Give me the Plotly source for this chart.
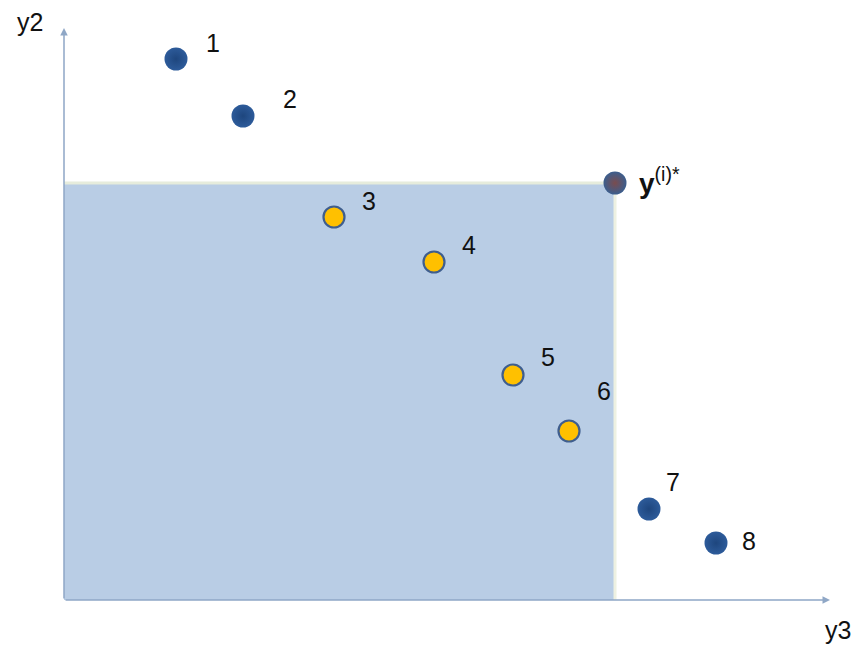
import plotly.graph_objects as go

# Data (y3 on horizontal axis, y2 on vertical axis), arbitrary units
labels = ["1", "2", "3", "4", "5", "6", "7", "8"]
y3_vals = [112, 179, 270, 370, 449, 505, 585, 652]
y2_vals = [541, 484, 383, 338, 225, 169, 91, 57]
dominated = [False, False, True, True, True, True, False, False]

ref_y3 = 551
ref_y2 = 417
ref_label = "<b>y</b><sup>(i)*</sup>"

axis_end_y3 = 766
axis_end_y2 = 572

# label offsets in pixels (style)
label_dx = [37, 47, 35, 35, 35, 35, 24, 33]
label_dy = [16, 17, 16, 17, 18, 40, 27, 2]

dark = "#2D5B9A"
dark_center = "#1E467E"
yellow = "#FFC000"
edge = "#3F5E8E"
font_family = "Liberation Sans, Arial, sans-serif"

fig = go.Figure()

# dominated region
fig.add_shape(type="rect", x0=0, y0=0, x1=ref_y3, y1=ref_y2,
              fillcolor="#B9CDE5", line=dict(width=0), layer="below")
fig.add_shape(type="line", x0=0, y0=ref_y2, x1=ref_y3, y1=ref_y2,
              line=dict(color="#E6ECDC", width=3), layer="below")
fig.add_shape(type="line", x0=ref_y3, y0=0, x1=ref_y3, y1=ref_y2,
              line=dict(color="#EEF1E2", width=3), layer="below")

# axes arrows
fig.add_annotation(x=axis_end_y3, y=0, ax=0, ay=0, xref="x", yref="y",
                   axref="x", ayref="y", text="", showarrow=True,
                   arrowhead=2, arrowsize=1, arrowwidth=1.5, arrowcolor="#8FA7C6")
fig.add_annotation(x=0, y=axis_end_y2, ax=0, ay=0, xref="x", yref="y",
                   axref="x", ayref="y", text="", showarrow=True,
                   arrowhead=2, arrowsize=1, arrowwidth=1.5, arrowcolor="#8FA7C6")

fig.add_annotation(x=-34, y=578, text="y2", showarrow=False,
                   font=dict(family=font_family, size=25, color="#111"))
fig.add_annotation(x=774, y=-30, text="y3", showarrow=False,
                   font=dict(family=font_family, size=25, color="#111"))

# non-dominated points
nd_x = [x for x, d in zip(y3_vals, dominated) if not d]
nd_y = [y for y, d in zip(y2_vals, dominated) if not d]
fig.add_trace(go.Scatter(x=nd_x, y=nd_y, mode="markers",
                         marker=dict(size=23, color=dark,
                                     gradient=dict(type="radial", color=dark_center),
                                     line=dict(width=0)),
                         hoverinfo="skip"))
# dominated points
d_x = [x for x, d in zip(y3_vals, dominated) if d]
d_y = [y for y, d in zip(y2_vals, dominated) if d]
fig.add_trace(go.Scatter(x=d_x, y=d_y, mode="markers",
                         marker=dict(size=21, color=yellow,
                                     line=dict(width=2.2, color=edge)),
                         hoverinfo="skip"))
# reference point
fig.add_trace(go.Scatter(x=[ref_y3], y=[ref_y2], mode="markers",
                         marker=dict(size=23, color="#3B5E8E",
                                     gradient=dict(type="radial", color="#7A4C4E"),
                                     line=dict(width=0)),
                         hoverinfo="skip"))

for lab, x, y, dx, dy in zip(labels, y3_vals, y2_vals, label_dx, label_dy):
    fig.add_annotation(x=x, y=y, text=lab, showarrow=False, xshift=dx, yshift=dy,
                       font=dict(family=font_family, size=25, color="#111"))

fig.add_annotation(x=ref_y3, y=ref_y2, text=ref_label, showarrow=False,
                   xanchor="left", xshift=22, yshift=2,
                   font=dict(family=font_family, size=28, color="#111"))

# page body has an 8px margin; figure spans page pixels 8..859 x 8..649
fig.update_layout(
    width=851, height=641,
    margin=dict(l=0, r=0, t=0, b=0),
    paper_bgcolor="white", plot_bgcolor="white",
    showlegend=False,
    xaxis=dict(range=[-56, 795], visible=False, fixedrange=True),
    yaxis=dict(range=[-49, 592], visible=False, fixedrange=True),
)

fig.write_html("out.html", config={"displayModeBar": False})
